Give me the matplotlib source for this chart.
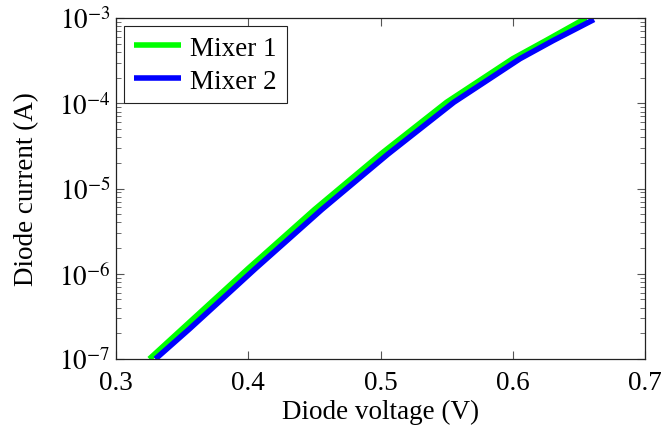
import matplotlib
matplotlib.use("Agg")
import matplotlib.pyplot as plt
from matplotlib.ticker import LogLocator, NullFormatter

plt.rcParams['font.family'] = ['Liberation Serif', 'DejaVu Serif']
plt.rcParams['mathtext.fontset'] = 'stix'

# Data
v_mixer1 = [0.3252, 0.35, 0.375, 0.40, 0.425, 0.45, 0.475, 0.50, 0.525, 0.55,
            0.575, 0.60, 0.625, 0.6556]
i_mixer1 = [1e-7, 2.25e-7, 5.09e-7, 1.153e-6, 2.55e-6, 5.65e-6, 1.194e-5, 2.52e-5,
            5.09e-5, 1.028e-4, 1.849e-4, 3.33e-4, 5.43e-4, 1e-3]
v_mixer2 = [0.3298, 0.3555, 0.3805, 0.4055, 0.4305, 0.4555, 0.4805, 0.5055, 0.5305,
            0.5555, 0.5805, 0.6055, 0.6305, 0.6614]
i_mixer2 = [1e-7, 2.25e-7, 5.09e-7, 1.153e-6, 2.55e-6, 5.65e-6, 1.194e-5, 2.52e-5,
            5.09e-5, 1.028e-4, 1.849e-4, 3.33e-4, 5.43e-4, 9.6e-4]

x_ticks = [0.3, 0.4, 0.5, 0.6, 0.7]
x_tick_labels = ["0.3", "0.4", "0.5", "0.6", "0.7"]
y_ticks = [1e-7, 1e-6, 1e-5, 1e-4, 1e-3]
y_tick_labels = [r"$10^{-7}$", r"$10^{-6}$", r"$10^{-5}$", r"$10^{-4}$", r"$10^{-3}$"]

fig = plt.figure(figsize=(6.62, 4.27), dpi=100)
ax = fig.add_axes([116/662, 67/427, 529/662, 341/427])

ax.plot(v_mixer1, i_mixer1, color='#00ff00', lw=4, solid_capstyle='butt', label='Mixer 1')
ax.plot(v_mixer2, i_mixer2, color='#0000ff', lw=4, solid_capstyle='butt', label='Mixer 2')

ax.set_yscale('log')
ax.set_xlim(0.3, 0.7)
ax.set_ylim(1e-7, 1e-3)
ax.set_xticks(x_ticks)
ax.set_xticklabels(x_tick_labels)
ax.set_yticks(y_ticks)
ax.set_yticklabels(y_tick_labels)
ax.yaxis.set_minor_locator(LogLocator(base=10, subs=range(2, 10), numticks=20))
ax.yaxis.set_minor_formatter(NullFormatter())

ax.tick_params(which='both', direction='in', top=True, right=True, labelsize=19.5, color='#555555')
ax.tick_params(which='major', length=6, width=0.8)
ax.tick_params(which='minor', length=3.5, width=0.6)
ax.tick_params(axis='x', pad=8)
ax.tick_params(axis='y', pad=4)
for s in ax.spines.values():
    s.set_linewidth(0.9)
    s.set_color('#222222')

ax.set_xlabel('Diode voltage (V)', fontsize=19.5, labelpad=3)
ax.set_ylabel('Diode current (A)', fontsize=19.5, labelpad=14)

leg = ax.legend(loc='upper left', fontsize=19.5, frameon=True, fancybox=False,
                edgecolor='#222222', framealpha=1, handlelength=1.75,
                borderaxespad=0.3, borderpad=0.35, labelspacing=0.3, handletextpad=0.35)
leg.get_frame().set_linewidth(0.8)

fig.savefig('out.png', dpi=100)
